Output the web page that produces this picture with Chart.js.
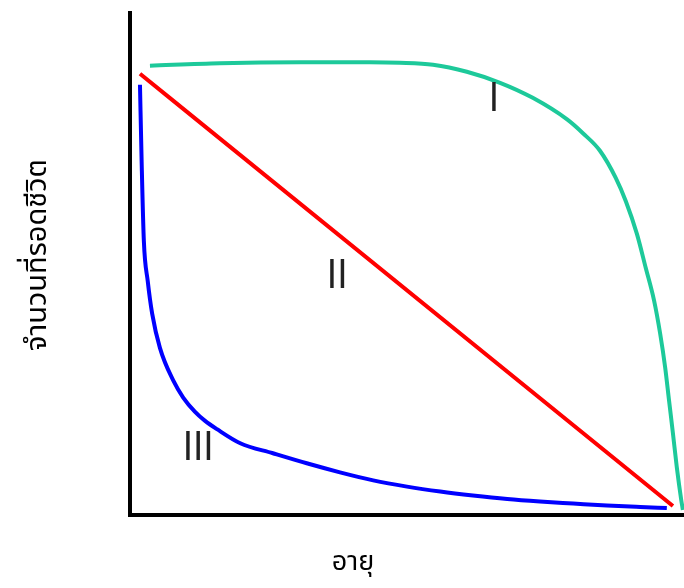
<!DOCTYPE html>
<html>
<head>
<meta charset="utf-8">
<script src="https://cdn.jsdelivr.net/npm/chart.js@4/dist/chart.umd.min.js"></script>
<style>
  html, body { margin: 0; padding: 0; background: #fff; }
  #wrap { width: 684px; height: 588px; }
</style>
</head>
<body>
<div id="wrap"><canvas id="curveChart" width="684" height="588"></canvas></div>
<script>
// survivorship curves, age (x) vs survivors (y), both in 0-100 units
const typeIAge = [3.6, 16.2, 30.7, 43.3, 48.7, 54.7, 60.8, 66.8, 72.7, 78.9, 81.8, 84.8, 87.7, 89.5, 91.5,
    93.1, 94.6, 95.7, 96.6, 97.3, 98.0, 98.7, 99.5, 99.8];
const typeISurv = [89.5, 90.0, 90.2, 90.2, 90.1, 89.7, 88.3, 86.1, 83.1, 78.8, 76.0, 72.6, 67.1, 62.5, 56.0,
    49.2, 42.7, 36.1, 29.4, 22.8, 16.3, 9.5, 3.0, 1.0];

const typeIIAge = [1.8, 98.0];
const typeIISurv = [87.9, 1.8];

const typeIIIAge = [1.8, 2.1, 2.5, 3.2, 4.0, 5.4, 7.8, 9.6, 11.7, 13.5, 15.7, 19.9, 25.8, 31.9, 37.9,
    43.9, 50.0, 56.0, 61.9, 68.1, 74.0, 80.0, 86.1, 92.1, 96.9];
const typeIIISurv = [85.7, 70.4, 54.6, 46.6, 40.1, 33.3, 26.8, 23.4, 20.6, 18.8, 17.1, 14.3, 12.3, 10.3, 8.5,
    6.9, 5.65, 4.66, 3.87, 3.17, 2.68, 2.28, 1.88, 1.59, 1.39];

const curveNames = ['I', 'II', 'III'];
const curveLabelAge = [65.7, 37.4, 12.3];
const curveLabelSurv = [82.5, 47.2, 12.9];

const xTitle = 'อายุ';
const yTitle = 'จำนวนที่รอดชีวิต';

const THAI_FONT = '"Noto Sans Thai", Tahoma, "Noto Sans", "DejaVu Sans", sans-serif';

function toPoints(xs, ys) {
    return xs.map((x, i) => ({ x: x, y: ys[i] }));
}

function curve(xs, ys, color) {
    return {
        data: toPoints(xs, ys),
        showLine: true,
        borderColor: color,
        borderWidth: 4,
        pointRadius: 0,
        cubicInterpolationMode: 'monotone',
        clip: false
    };
}

// roman numerals on the curves + the two axis titles
const labelPlugin = {
    id: 'curveLabels',
    afterDatasetsDraw(chart) {
        const { ctx, scales: { x, y } } = chart;
        ctx.save();
        ctx.fillStyle = '#222';
        ctx.textAlign = 'center';
        ctx.textBaseline = 'middle';
        ctx.font = '39px "Liberation Sans Narrow", "DejaVu Sans Condensed", "Liberation Sans", sans-serif';
        curveNames.forEach((n, i) => {
            ctx.fillText(n, x.getPixelForValue(curveLabelAge[i]), y.getPixelForValue(curveLabelSurv[i]));
        });

        ctx.fillStyle = '#000';
        ctx.font = '27px ' + THAI_FONT;
        ctx.fillText(xTitle, 353, 565);

        ctx.translate(40, 255);
        ctx.rotate(-Math.PI / 2);
        ctx.font = '29px ' + THAI_FONT;
        ctx.fillText(yTitle, 0, 0);
        ctx.restore();
    }
};

const axisBase = {
    type: 'linear',
    min: 0,
    max: 100,
    ticks: { display: false },
    grid: { display: false, drawTicks: false },
    border: { display: true, color: '#000', width: 4 },
    afterFit(scale) {
        if (scale.isHorizontal()) scale.height = 0;
        else scale.width = 0;
    }
};

new Chart(document.getElementById('curveChart'), {
    type: 'scatter',
    data: {
        datasets: [
            curve(typeIAge, typeISurv, '#1dc99a'),
            curve(typeIIAge, typeIISurv, '#ff0000'),
            curve(typeIIIAge, typeIIISurv, '#0000ff')
        ]
    },
    options: {
        responsive: false,
        animation: false,
        layout: { padding: { left: 130, top: 13, right: 0, bottom: 73 } },
        plugins: { legend: { display: false }, tooltip: { enabled: false } },
        scales: {
            x: Object.assign({}, axisBase),
            y: Object.assign({}, axisBase)
        }
    },
    plugins: [labelPlugin]
});
</script>
</body>
</html>
